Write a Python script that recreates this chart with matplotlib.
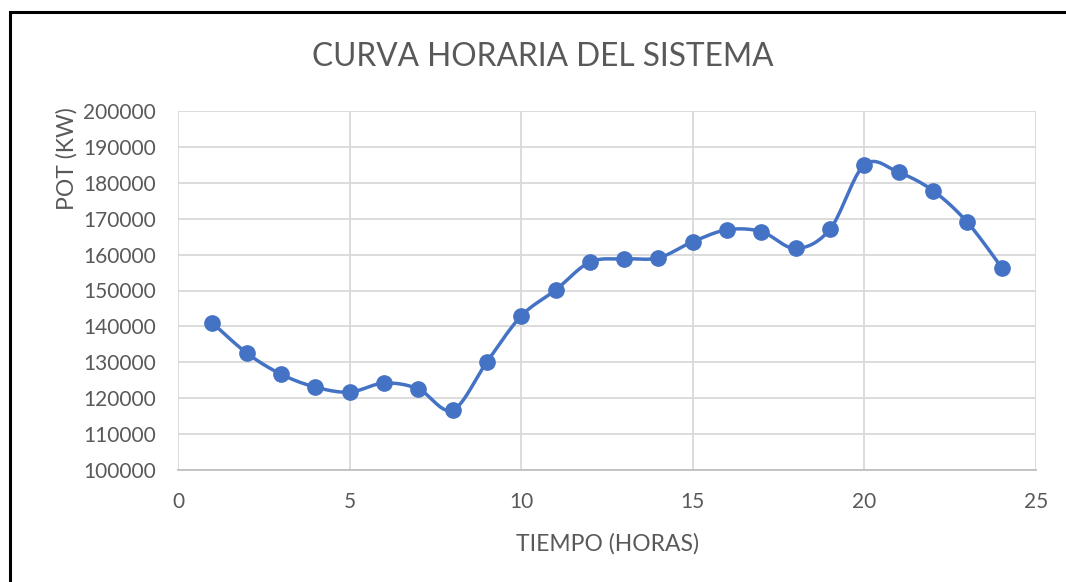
import numpy as np
import matplotlib
matplotlib.use('Agg')
import matplotlib.pyplot as plt
from matplotlib.patches import Rectangle

hours = list(range(1, 25))
power = [141000, 132600, 126700, 123100, 121700, 124200, 122600, 116700,
         130100, 142900, 150100, 157900, 158800, 159100, 163600, 166900,
         166400, 161700, 167100, 185000, 182900, 177800, 169000, 156400]

x_ticks = [0, 5, 10, 15, 20, 25]
y_ticks = list(range(100000, 200001, 10000))


def smooth(xs, ys, n=20):
	# Excel style smoothed line (Catmull-Rom through the points)
	xs = np.asarray(xs, float)
	ys = np.asarray(ys, float)
	px = np.concatenate([[xs[0]], xs, [xs[-1]]])
	py = np.concatenate([[ys[0]], ys, [ys[-1]]])
	outx, outy = [], []
	t = np.linspace(0, 1, n)
	for i in range(1, len(px) - 2):
		p0x, p1x, p2x, p3x = px[i - 1], px[i], px[i + 1], px[i + 2]
		p0y, p1y, p2y, p3y = py[i - 1], py[i], py[i + 1], py[i + 2]
		c1x, c1y = p1x + (p2x - p0x) / 6, p1y + (p2y - p0y) / 6
		c2x, c2y = p2x - (p3x - p1x) / 6, p2y - (p3y - p1y) / 6
		bx = (1 - t) ** 3 * p1x + 3 * (1 - t) ** 2 * t * c1x + 3 * (1 - t) * t ** 2 * c2x + t ** 3 * p2x
		by = (1 - t) ** 3 * p1y + 3 * (1 - t) ** 2 * t * c1y + 3 * (1 - t) * t ** 2 * c2y + t ** 3 * p2y
		outx.extend(bx)
		outy.extend(by)
	return outx, outy


def main():
	plt.rcParams['font.family'] = ['Lato', 'DejaVu Sans']
	grey = '#595959'
	blue = '#4472C4'

	fig = plt.figure(figsize=(10.66, 5.82), dpi=100)
	ax = fig.add_axes([178 / 1066, 1 - 470 / 582, (1036 - 178) / 1066, (470 - 111) / 582])

	sx, sy = smooth(hours, power)
	ax.plot(sx, sy, color=blue, linewidth=2.5, zorder=3)
	ax.plot(hours, power, 'o', color=blue, markersize=11, zorder=4)

	ax.set_xlim(0, 25)
	ax.set_ylim(100000, 200000)
	ax.set_xticks(x_ticks)
	ax.set_yticks(y_ticks)
	ax.grid(True, color='#d9d9d9', linewidth=1.3)
	ax.set_axisbelow(True)
	for s in ['top', 'right', 'left']:
		ax.spines[s].set_visible(False)
	ax.spines['bottom'].set_color('#bfbfbf')
	ax.spines['bottom'].set_linewidth(1.3)
	ax.tick_params(length=0, colors=grey, labelsize=15)
	ax.tick_params(axis='x', pad=16)
	ax.tick_params(axis='y', pad=16)

	ax.set_xlabel('TIEMPO (HORAS)', color=grey, fontsize=16.5, labelpad=15)
	fig.text(67 / 1066, 1 - 159 / 582, 'POT (KW)', color=grey, fontsize=16.5,
		rotation=90, ha='center', va='center')
	fig.text(543 / 1066, 1 - 57 / 582, 'CURVA HORARIA DEL SISTEMA', color=grey,
		fontsize=22.8, ha='center', va='center')

	# black frame around the chart, cut off at right and bottom
	fig.patches.append(Rectangle((10 / 1066, -0.1), 1.2, 1 - 12 / 582 + 0.1,
		transform=fig.transFigure, fill=False, edgecolor='black', linewidth=2.2))

	fig.savefig('out.png', dpi=100)


if __name__ == '__main__':
	main()
